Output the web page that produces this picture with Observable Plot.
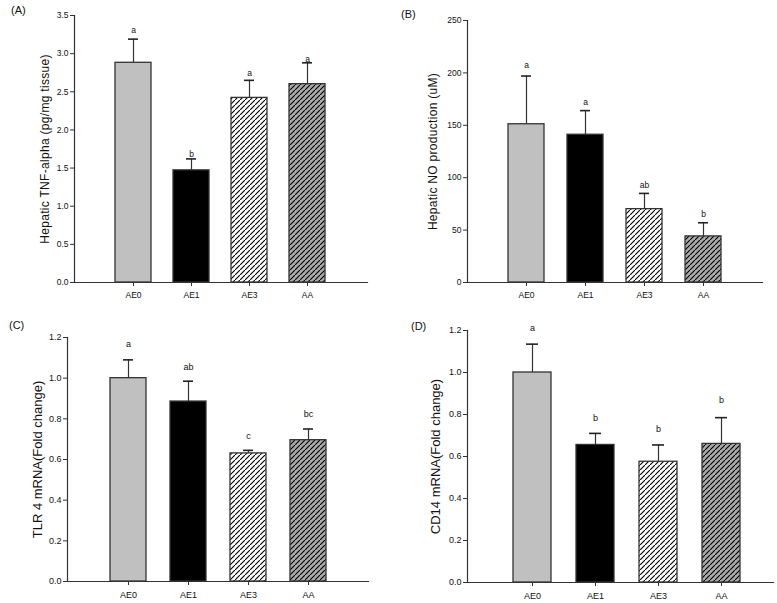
<!DOCTYPE html>
<html>
<head>
<meta charset="utf-8">
<script src="https://cdn.jsdelivr.net/npm/d3@7"></script>
<script src="https://cdn.jsdelivr.net/npm/@observablehq/plot@0.6"></script>
<style>
  html, body { margin: 0; padding: 0; background: #fff; }
  #root { position: relative; width: 777px; height: 603px; font-family: "Liberation Sans", Arial, sans-serif; }
  .panel { position: absolute; }
  .tag { position: absolute; font-size: 11px; color: #111; }
</style>
</head>
<body>
<div id="root"></div>
<script>
// ---- data ----
const groups = ["AE0", "AE1", "AE3", "AA"];

const tnfMean = [2.88, 1.47, 2.42, 2.60];
const tnfErr = [0.31, 0.15, 0.23, 0.28];
const tnfLetters = ["a", "b", "a", "a"];
const tnfLetterY = [3.30, 1.68, 2.74, 2.93];
const tnfTicks = [0, 0.5, 1.0, 1.5, 2.0, 2.5, 3.0, 3.5];

const noMean = [151, 141, 70, 44];
const noErr = [46, 23, 15, 13];
const noLetters = ["a", "a", "ab", "b"];
const noLetterY = [207, 172, 92.5, 65.5];
const noTicks = [0, 50, 100, 150, 200, 250];

const tlrMean = [1.00, 0.885, 0.63, 0.695];
const tlrErr = [0.09, 0.10, 0.015, 0.055];
const tlrLetters = ["a", "ab", "c", "bc"];
const tlrLetterY = [1.166, 1.053, 0.713, 0.821];

const cdMean = [1.00, 0.655, 0.575, 0.66];
const cdErr = [0.135, 0.055, 0.08, 0.125];
const cdLetters = ["a", "b", "b", "b"];
const cdLetterY = [1.21, 0.784, 0.732, 0.867];

const mrnaTicks = [0, 0.2, 0.4, 0.6, 0.8, 1.0, 1.2];

// ---- styles ----
const fillFor = (id) => ({
  AE0: "#c0c0c0",
  AE1: "#000000",
  AE3: `url(#hatchW-${id})`,
  AA: `url(#hatchG-${id})`
});

const root = document.getElementById("root");

function addPatterns(svg, id) {
  const defs = d3.select(svg).insert("defs", ":first-child");
  [["hatchW", "#ffffff"], ["hatchG", "#aaaaaa"]].forEach(([name, bg]) => {
    const p = defs.append("pattern")
      .attr("id", `${name}-${id}`)
      .attr("patternUnits", "userSpaceOnUse")
      .attr("width", 5).attr("height", 5);
    p.append("rect").attr("width", 5).attr("height", 5).attr("fill", bg);
    p.append("path")
      .attr("d", "M-1,6 L6,-1 M-2,1 L1,-2 M4,7 L7,4")
      .attr("stroke", "#000").attr("stroke-width", 1.1);
  });
}

function panel(cfg) {
  const data = groups.map((g, i) => ({
    group: g, value: cfg.mean[i], err: cfg.err[i], letter: cfg.letters[i], ly: cfg.letterY[i]
  }));
  const fills = fillFor(cfg.id);
  const svg = Plot.plot({
    width: cfg.width,
    height: cfg.height,
    marginLeft: cfg.margin[0],
    marginRight: cfg.margin[1],
    marginTop: cfg.margin[2],
    marginBottom: cfg.margin[3],
    style: { fontFamily: "Liberation Sans, Arial, sans-serif", color: "#111", background: "#fff" },
    x: { type: "band", domain: groups, range: cfg.xRange, paddingInner: cfg.pad, paddingOuter: cfg.pad / 2, align: 0.5 },
    y: { domain: cfg.yDomain },
    color: { type: "identity" },
    marks: [
      Plot.axisY({
        ticks: cfg.yTicks, tickFormat: cfg.yFormat, tickSize: 4, tickPadding: 2,
        fontSize: cfg.tickFont, stroke: "#333",
        label: cfg.yLabel, labelAnchor: "center", labelArrow: "none", labelOffset: cfg.labelOffset
      }),
      Plot.axisX({ tickSize: 4, tickPadding: cfg.xPad, fontSize: cfg.tickFont, stroke: "#333", label: null }),
      Plot.ruleX(data, { x: "group", y1: "value", y2: d => d.value + d.err, stroke: "#333", strokeWidth: 1.2 }),
      Plot.tickY(data, { x: "group", y: d => d.value + d.err, insetLeft: 13, insetRight: 13, stroke: "#222", strokeWidth: 1.6 }),
      Plot.barY(data, { x: "group", y: "value", fill: d => fills[d.group], stroke: "#333", strokeWidth: 1.3 }),
      Plot.text(data, { x: "group", y: "ly", text: "letter", fontSize: cfg.tickFont, fill: "#111" }),
      Plot.frame({ anchor: "left", stroke: "#333", strokeWidth: 1.2 }),
      Plot.frame({ anchor: "bottom", stroke: "#333", strokeWidth: 1.2 })
    ]
  });
  addPatterns(svg, cfg.id);
  // axis label font size
  d3.select(svg).selectAll("[aria-label='y-axis label'] text, g[aria-label='y-axis label']")
    .attr("font-size", cfg.labelFont).attr("fill", "#111");
  if (cfg.labelSpacing) d3.select(svg).selectAll("[aria-label='y-axis label']").attr("letter-spacing", cfg.labelSpacing);
  svg.classList.add("panel");
  svg.style.left = cfg.left + "px";
  svg.style.top = cfg.top + "px";
  root.appendChild(svg);
  const tag = document.createElement("div");
  tag.className = "tag";
  tag.textContent = cfg.tag;
  tag.style.left = cfg.tagPos[0] + "px";
  tag.style.top = cfg.tagPos[1] + "px";
  root.appendChild(tag);
}

panel({
  id: "A", tag: "(A)", tagPos: [11, 4], left: 0, top: 0, width: 390, height: 300,
  margin: [74, 23, 15, 18], xRange: [104, 336], pad: 0.38,
  mean: tnfMean, err: tnfErr, letters: tnfLetters, letterY: tnfLetterY,
  yDomain: [0, 3.5], yTicks: tnfTicks, yFormat: d3.format(".1f"),
  yLabel: "Hepatic TNF-alpha (pg/mg tissue)", labelOffset: 34, labelFont: 12, labelSpacing: 0.3,
  tickFont: 8.5, xPad: 5
});
panel({
  id: "B", tag: "(B)", tagPos: [401, 8], left: 390, top: 0, width: 387, height: 300,
  margin: [77, 15, 20, 18], xRange: [105.7, 343], pad: 0.385,
  mean: noMean, err: noErr, letters: noLetters, letterY: noLetterY,
  yDomain: [0, 250], yTicks: noTicks, yFormat: d3.format("d"),
  yLabel: "Hepatic NO production (uM)", labelOffset: 39, labelFont: 12, labelSpacing: 0.3,
  tickFont: 8.5, xPad: 5
});
panel({
  id: "C", tag: "(C)", tagPos: [9, 319], left: 0, top: 300, width: 390, height: 303,
  margin: [67, 22, 37, 22], xRange: [97.9, 338.6], pad: 0.393,
  mean: tlrMean, err: tlrErr, letters: tlrLetters, letterY: tlrLetterY,
  yDomain: [0, 1.2], yTicks: mrnaTicks, yFormat: d3.format(".1f"),
  yLabel: "TLR 4 mRNA(Fold change)", labelOffset: 35, labelFont: 13,
  tickFont: 9, xPad: 6
});
panel({
  id: "D", tag: "(D)", tagPos: [411, 320], left: 390, top: 300, width: 387, height: 303,
  margin: [77, 4, 30, 21], xRange: [110.4, 363.1], pad: 0.399,
  mean: cdMean, err: cdErr, letters: cdLetters, letterY: cdLetterY,
  yDomain: [0, 1.2], yTicks: mrnaTicks, yFormat: d3.format(".1f"),
  yLabel: "CD14 mRNA(Fold change)", labelOffset: 37, labelFont: 13,
  tickFont: 9, xPad: 6
});
</script>
</body>
</html>
